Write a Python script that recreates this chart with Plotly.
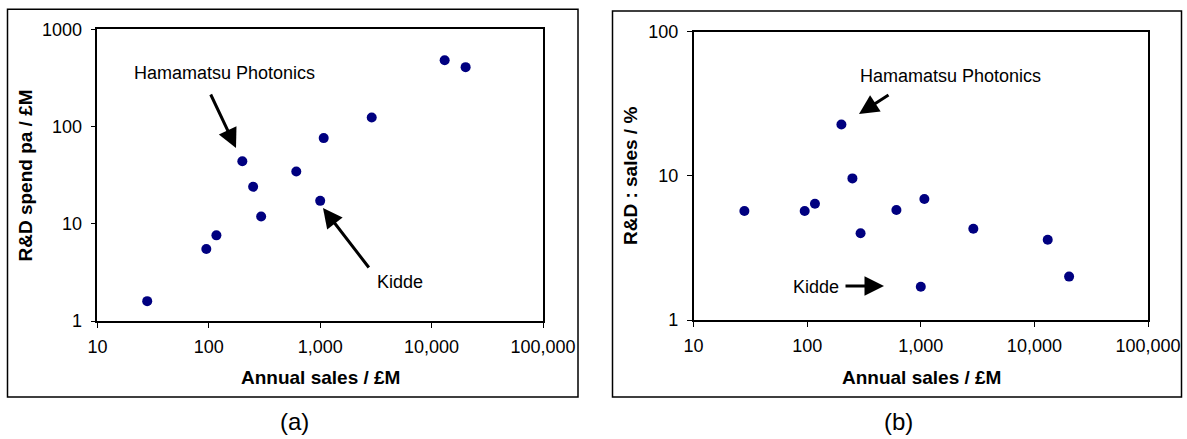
import plotly.graph_objects as go

# ---- data ----
annual_sales = [28, 95, 117, 200, 250, 295, 610, 1000, 1075, 2900, 13100, 20200]   # £M
rd_spend = [1.6, 5.5, 7.6, 44, 24, 11.9, 34.5, 17.2, 76, 124, 481, 408]            # £M pa
rd_to_sales = [5.7, 5.7, 6.4, 22.7, 9.6, 4.0, 5.8, 1.7, 6.9, 4.3, 3.6, 2.0]         # %

x_tickvals = [10, 100, 1000, 10000, 100000]
x_ticktext = ["10", "100", "1,000", "10,000", "100,000"]
ya_tickvals = [1, 10, 100, 1000]
ya_ticktext = ["1", "10", "100", "1000"]
yb_tickvals = [1, 10, 100]
yb_ticktext = ["1", "10", "100"]

W, H = 1187, 439
FONT = "Liberation Sans, Arial, sans-serif"
NAVY = "#000080"


def px(x):
    return x / W


def py(y):
    return 1 - y / H


fig = go.Figure()
fig.add_trace(go.Scatter(x=annual_sales, y=rd_spend, mode="markers",
                         marker=dict(color=NAVY, size=10), xaxis="x", yaxis="y",
                         showlegend=False))
fig.add_trace(go.Scatter(x=annual_sales, y=rd_to_sales, mode="markers",
                         marker=dict(color=NAVY, size=10), xaxis="x2", yaxis="y2",
                         showlegend=False))

axis_common = dict(type="log", showgrid=False, zeroline=False, showline=True,
                   linecolor="black", linewidth=1.5, mirror=True, ticks="outside",
                   ticklen=5, tickwidth=1, tickcolor="black", automargin=False,
                   tickfont=dict(family=FONT, size=18, color="black"))

fig.update_layout(
    width=W, height=H, margin=dict(l=0, r=0, t=0, b=0, autoexpand=False),
    paper_bgcolor="white", plot_bgcolor="white",
    xaxis=dict(axis_common, domain=[px(97.4), px(543)], range=[1, 5],
               tickvals=x_tickvals, ticktext=x_ticktext, anchor="y",
               ticklabelstandoff=4),
    yaxis=dict(axis_common, domain=[py(321), py(29.3)], range=[0, 3],
               tickvals=ya_tickvals, ticktext=ya_ticktext, anchor="x",
               ticklabelstandoff=5),
    xaxis2=dict(axis_common, domain=[px(693.6), px(1148)], range=[1, 5],
                tickvals=x_tickvals, ticktext=x_ticktext, anchor="y2",
                ticklabelstandoff=4),
    yaxis2=dict(axis_common, domain=[py(320), py(31.7)], range=[0, 2],
                tickvals=yb_tickvals, ticktext=yb_ticktext, anchor="x2",
                ticklabelstandoff=5),
)

shapes = [
    dict(type="rect", xref="paper", yref="paper", x0=px(7.5), x1=px(578),
         y0=py(397), y1=py(9.3), line=dict(color="black", width=1.5)),
    dict(type="rect", xref="paper", yref="paper", x0=px(612.5), x1=px(1181.5),
         y0=py(397), y1=py(11), line=dict(color="black", width=1.5)),
]
fig.update_layout(shapes=shapes)

ann = []
tfont = dict(family=FONT, size=19, color="black")
# axis titles
ann.append(dict(text="<b>Annual sales / £M</b>", x=px(320), y=py(377), xref="paper", yref="paper",
                showarrow=False, font=tfont, xanchor="center", yanchor="middle"))
ann.append(dict(text="<b>Annual sales / £M</b>", x=px(921), y=py(377), xref="paper", yref="paper",
                showarrow=False, font=tfont, xanchor="center", yanchor="middle"))
ann.append(dict(text="<b>R&D spend pa / £M</b>", x=px(24.5), y=py(176), xref="paper", yref="paper",
                showarrow=False, font=tfont, textangle=-90, xanchor="center", yanchor="middle"))
ann.append(dict(text="<b>R&D : sales / %</b>", x=px(630), y=py(176), xref="paper", yref="paper",
                showarrow=False, font=tfont, textangle=-90, xanchor="center", yanchor="middle"))
# panel labels
lfont = dict(family=FONT, size=24, color="black")
ann.append(dict(text="(a)", x=px(294), y=py(421), xref="paper", yref="paper",
                showarrow=False, font=lfont, xanchor="center", yanchor="middle"))
ann.append(dict(text="(b)", x=px(898), y=py(421), xref="paper", yref="paper",
                showarrow=False, font=lfont, xanchor="center", yanchor="middle"))
# callout text
cfont = dict(family=FONT, size=18, color="black")
for txt, x, y in [("Hamamatsu Photonics", 132, 73), ("Kidde", 375, 282),
                  ("Hamamatsu Photonics", 858, 76), ("Kidde", 791, 287)]:
    ann.append(dict(text=txt, x=px(x), y=py(y), xref="paper", yref="paper",
                    showarrow=False, font=cfont, xanchor="left", yanchor="middle"))
# arrows (head position, tail offset in px)
for hx, hy, tx, ty in [(236, 148, 210, 93), (323, 208, 370, 269),
                       (859, 114, 890, 94), (884, 286, 844, 286)]:
    ann.append(dict(text="", x=px(hx), y=py(hy), xref="paper", yref="paper",
                    ax=tx - hx, ay=ty - hy, showarrow=True, arrowhead=2,
                    arrowsize=1.3, arrowwidth=3, arrowcolor="black", standoff=0))
fig.update_layout(annotations=ann)

fig.write_html("out.html", config={"displayModeBar": False},
               post_script="document.body.style.margin='0';document.body.style.overflow='hidden';")
